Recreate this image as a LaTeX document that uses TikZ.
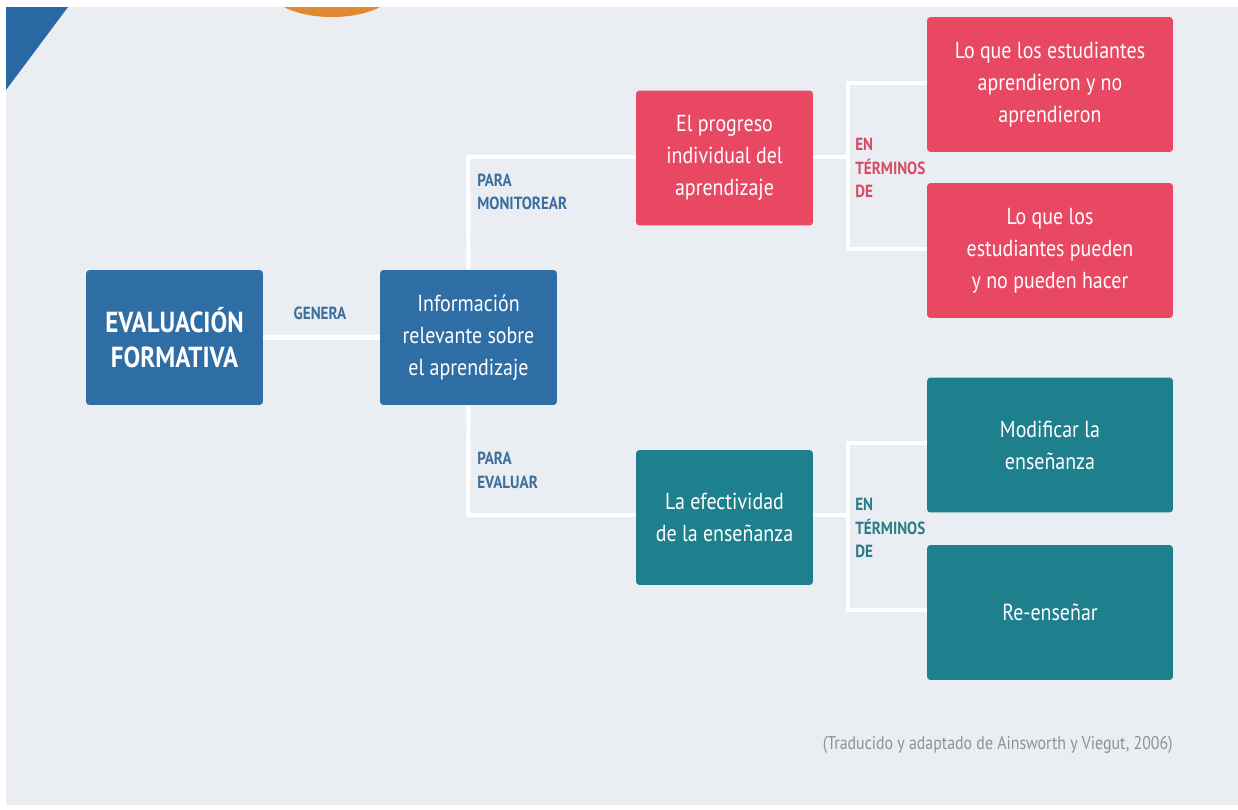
\documentclass[tikz,border=0pt]{standalone}
\usepackage{fontspec}
\setmainfont{PT Sans}[FakeStretch=0.86]
\begin{document}
\begin{tikzpicture}[x=0.02cm,y=-0.02cm,
  box/.style={rounded corners=2pt, text=white, align=center, inner sep=2pt, font=\fontsize{13.2}{18.3}\selectfont},
  bluebox/.style={box, fill=boxblue, minimum width=3.54cm, minimum height=2.7cm},
  redbox/.style={box, fill=boxred},
  tealbox/.style={box, fill=boxteal},
  small/.style={box, minimum width=3.54cm, minimum height=2.7cm},
  wide/.style={box, minimum width=4.92cm, minimum height=2.7cm},
  conn/.style={draw=white, line width=2.4pt},
  lbl/.style={font=\bfseries\fontsize{10}{13.5}\selectfont, align=left, inner sep=0pt, anchor=west}
]
\definecolor{bg}{HTML}{EAEEF3}
\definecolor{boxblue}{HTML}{2F6DA5}
\definecolor{boxred}{HTML}{E84862}
\definecolor{boxteal}{HTML}{1E7F8D}
\definecolor{lblblue}{HTML}{3C6E9E}
\definecolor{lblred}{HTML}{D84A66}
\definecolor{lblteal}{HTML}{2A7C8A}
\definecolor{orng}{HTML}{E08A30}
\definecolor{tri}{HTML}{2A68A4}
\definecolor{cite}{HTML}{8E9297}
\useasboundingbox (0,0) rectangle (1238,809);
\fill[white] (0,0) rectangle (1238,809);
\fill[bg] (6,7) rectangle (1238,805);
\fill[tri] (6,7) -- (68,7) -- (6,90) -- cycle;
\begin{scope}
\clip (6,7) rectangle (1238,40);
\fill[orng] (332,-10) ellipse [x radius=62, y radius=27];
\end{scope}
% nodes
\node[bluebox, font=\bfseries\fontsize{16.5}{20}\selectfont] (eval) at (174.5,337.5) {EVALUACIÓN\\FORMATIVA};
\node[bluebox] (info) at (468.5,337.5) {Información\\relevante sobre\\el aprendizaje};
\node[redbox, small] (prog) at (724.5,158) {El progreso\\individual del\\aprendizaje};
\node[redbox, wide] (r1) at (1050,84.5) {Lo que los estudiantes\\aprendieron y no\\aprendieron};
\node[redbox, wide] (r2) at (1050,250.5) {Lo que los\\estudiantes pueden\\y no pueden hacer};
\node[tealbox, small] (efec) at (724.5,517.5) {La efectividad\\de la enseñanza};
\node[tealbox, wide] (t1) at (1050,445) {Modificar la\\enseñanza};
\node[tealbox, wide] (t2) at (1050,612.5) {Re-enseñar};
% junction coordinates
\coordinate (ja) at (468,157);
\coordinate (jb) at (468,515);
\coordinate (rj) at (848,157);
\coordinate (rja) at (848,83);
\coordinate (rjb) at (848,249);
\coordinate (tj) at (848,515);
\coordinate (tja) at (848,443);
\coordinate (tjb) at (848,610);
% connectors
\draw[conn] (eval.east) -- (info.west);
\draw[conn] (info.north) -- (ja) -- (prog.west |- ja);
\draw[conn] (info.south) -- (jb) -- (efec.west |- jb);
\draw[conn] (prog.east |- rj) -- (rj);
\draw[conn] (r1.west |- rja) -- (rja) -- (rjb) -- (r2.west |- rjb);
\draw[conn] (efec.east |- tj) -- (tj);
\draw[conn] (t1.west |- tja) -- (tja) -- (tjb) -- (t2.west |- tjb);
% labels
\node[lbl, text=lblblue, anchor=center] (gen) at (320,313) {GENERA};
\node[lbl, text=lblblue] (pm) at (477,192) {PARA\\MONITOREAR};
\node[lbl, text=lblblue] (pe) at (477,470) {PARA\\EVALUAR};
\node[lbl, text=lblred] (etr) at (855,168) {EN\\TÉRMINOS\\DE};
\node[lbl, text=lblteal] (ett) at (855,528) {EN\\TÉRMINOS\\DE};
\node[font=\fontsize{10.5}{12}\selectfont, text=cite, anchor=east, inner sep=0pt] (cit) at (1173,745) {(Traducido y adaptado de Ainsworth y Viegut, 2006)};
\end{tikzpicture}
\end{document}
